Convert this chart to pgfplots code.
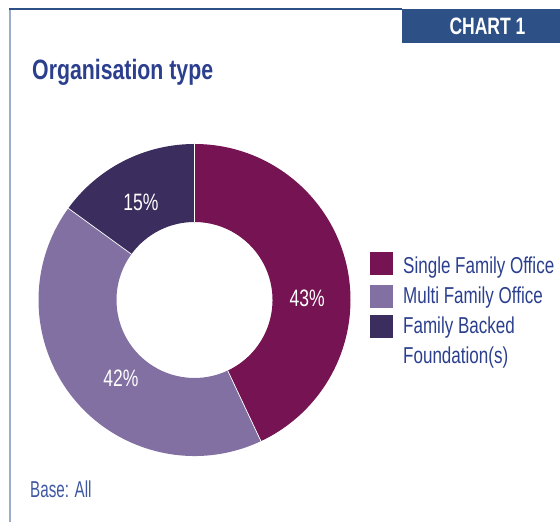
\documentclass[border=0pt]{standalone}
\usepackage{pgfplots}
\pgfplotsset{compat=1.18}
\usepackage{pgfplotstable}
\usepackage{fontspec}
\setmainfont{Liberation Sans}
\newfontfamily\condfont[FakeStretch=0.74]{Liberation Sans}
\newfontfamily\titlefont[FakeStretch=0.76]{Liberation Sans}
\newfontfamily\basefont[FakeStretch=0.66]{Liberation Sans}
\definecolor{sfo}{HTML}{761352}
\definecolor{mfo}{HTML}{8270A3}
\definecolor{fbf}{HTML}{3B2D5E}
\definecolor{navy}{HTML}{2B3F8E}
\definecolor{boxblue}{HTML}{2D5086}
\definecolor{framegrey}{HTML}{9CACCB}
\definecolor{baseblue}{HTML}{3F57A3}

\pgfplotstableread{
name value lx ly
SFO 43 0.722 0.008
MFO 42 -0.472 -0.504
FBF 15 -0.344 0.623
}\piedata

\begin{document}
\begin{tikzpicture}[x=1pt,y=1pt]
\pgfplotstablegetelem{0}{value}\of\piedata \edef\va{\pgfplotsretval}%
\pgfplotstablegetelem{1}{value}\of\piedata \edef\vb{\pgfplotsretval}%
\pgfplotstablegetelem{2}{value}\of\piedata \edef\vc{\pgfplotsretval}%
\pgfmathsetmacro\aA{90}%
\pgfmathsetmacro\aB{90-3.6*\va}%
\pgfmathsetmacro\aC{\aB-3.6*\vb}%
\pgfmathsetmacro\aD{\aC-3.6*\vc}%
\path[use as bounding box] (0,0) rectangle (560,522);
% frame
\draw[framegrey, line width=2] (9.5,513) -- (9.5,0);
\draw[boxblue, line width=1.2] (9,513) -- (402,513);
\fill[boxblue] (402,479) rectangle (560,513);
\node[anchor=base, inner sep=0, white, font=\condfont\bfseries\fontsize{23.7}{28}\selectfont] at (487.5,487) {CHART 1};
% title
\node[anchor=base west, inner sep=0, navy, font=\titlefont\bfseries\fontsize{28}{32}\selectfont] at (32,442) {Organisation type};
% base
\node[anchor=base west, inner sep=0, baseblue, font=\basefont\fontsize{23}{26}\selectfont] at (30,24) {Base: All};
% legend
\fill[sfo] (370,247) rectangle (393,270);
\fill[mfo] (370,214) rectangle (393,237);
\fill[fbf] (370,184) rectangle (393,207);
\begin{scope}[every node/.style={anchor=base west, inner sep=0, navy, font=\condfont\fontsize{23}{28}\selectfont}]
\node at (403,248.7) {Single Family Office};
\node at (403,218.7) {Multi Family Office};
\node at (403,188.7) {Family Backed};
\node at (403,158.7) {Foundation(s)};
\end{scope}
% donut
\begin{axis}[at={(194.5pt,222pt)}, anchor=center, x=156pt, y=156pt,
  xmin=-1.05, xmax=1.05, ymin=-1.05, ymax=1.05,
  hide axis, clip=false, scale only axis]
\fill[sfo] (axis cs:{cos(\aA)},{sin(\aA)}) arc[start angle=\aA, end angle=\aB, radius=1]
  -- (axis cs:{0.5*cos(\aB)},{0.5*sin(\aB)}) arc[start angle=\aB, end angle=\aA, radius=0.5] -- cycle;
\fill[mfo] (axis cs:{cos(\aB)},{sin(\aB)}) arc[start angle=\aB, end angle=\aC, radius=1]
  -- (axis cs:{0.5*cos(\aC)},{0.5*sin(\aC)}) arc[start angle=\aC, end angle=\aB, radius=0.5] -- cycle;
\fill[fbf] (axis cs:{cos(\aC)},{sin(\aC)}) arc[start angle=\aC, end angle=\aD, radius=1]
  -- (axis cs:{0.5*cos(\aD)},{0.5*sin(\aD)}) arc[start angle=\aD, end angle=\aC, radius=0.5] -- cycle;
\draw[white, line width=0.7] (axis cs:{0.5*cos(\aA)},{0.5*sin(\aA)}) -- (axis cs:{cos(\aA)},{sin(\aA)});
\draw[white, line width=0.7] (axis cs:{0.5*cos(\aB)},{0.5*sin(\aB)}) -- (axis cs:{cos(\aB)},{sin(\aB)});
\draw[white, line width=0.7] (axis cs:{0.5*cos(\aC)},{0.5*sin(\aC)}) -- (axis cs:{cos(\aC)},{sin(\aC)});
\addplot[draw=none, mark=none, point meta=explicit symbolic,
  nodes near coords={\pgfplotspointmeta\%},
  every node near coord/.append style={anchor=center, inner sep=0, text=white,
    font=\condfont\fontsize{23.7}{28}\selectfont}]
  table[x=lx, y=ly, meta=value] {\piedata};
\end{axis}
\end{tikzpicture}
\end{document}
